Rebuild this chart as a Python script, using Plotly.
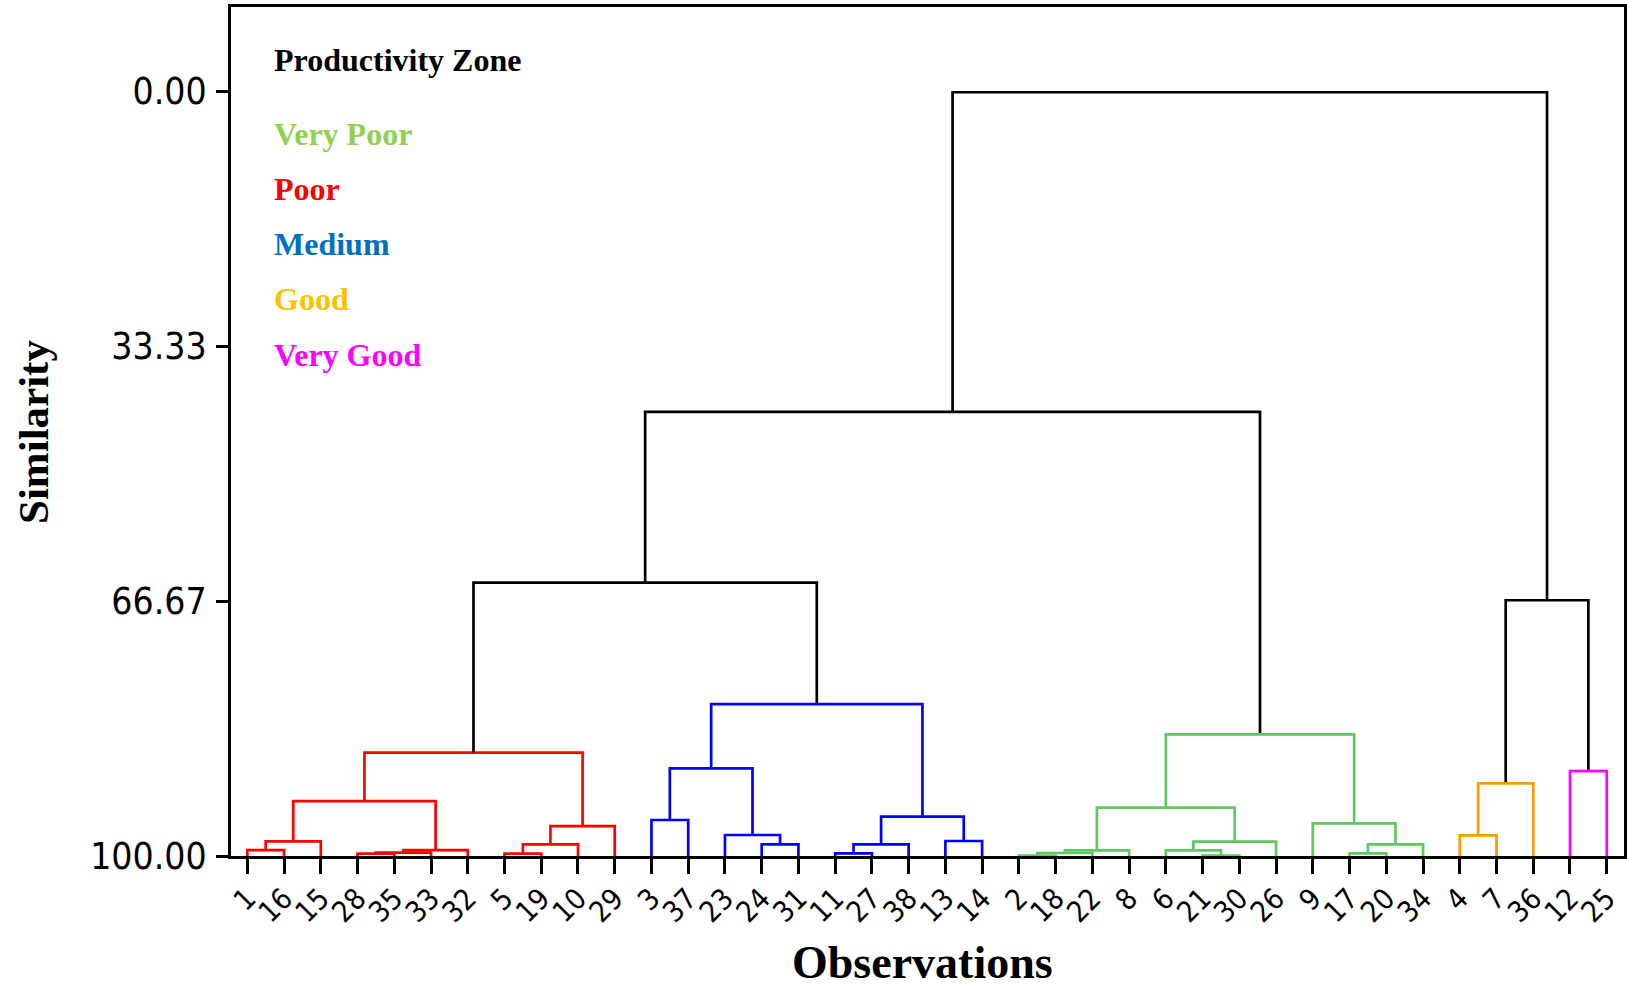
import plotly.graph_objects as go

# Leaf order along the x axis (observation numbers)
leaf_labels = [1, 16, 15, 28, 35, 33, 32, 5, 19, 10, 29,
               3, 37, 23, 24, 31, 11, 27, 38, 13, 14,
               2, 18, 22, 8, 6, 21, 30, 26, 9, 17, 20, 34,
               4, 7, 36, 12, 25]

# Agglomeration steps: integers are observations, "mK" refers to step K
merge_left = [1, "m0", 28, "m2", "m3", "m1", 5, "m6", "m7", "m5",          # 0-9
              3, 24, 23, "m10", 11, "m14", 13, "m15", "m13",              # 10-18
              "m9",                                                      # 19
              2, "m20", "m21", 21, 6, "m24", "m22", 17, "m27", 9, "m26",  # 20-30
              "m19",                                                     # 31
              4, "m32", 12, "m33", "m31"]                                # 32-36
merge_right = [16, 15, 35, 33, 32, "m4", 19, 10, 29, "m8",
               37, 31, "m11", "m12", 27, 38, 14, "m16", "m17",
               "m18",
               18, 22, 8, 30, "m23", 26, "m25", 20, 34, "m28", "m29",
               "m30",
               7, 36, 25, "m34", "m35"]
merge_similarity = [99.22, 98.08, 99.69, 99.56, 99.22, 92.81, 99.69, 98.47, 96.08, 86.49,
                    95.29, 98.47, 97.25, 88.54, 99.65, 98.47, 98.04, 94.85, 80.13,
                    64.25,
                    99.95, 99.61, 99.26, 99.95, 99.26, 98.12, 93.68, 99.65, 98.47, 95.73, 84.10,
                    41.90,
                    97.30, 90.50, 88.90, 66.55, 0.10]
merge_zone = (["Poor"] * 10 + ["Medium"] * 9 + [None]
              + ["Very Poor"] * 11 + [None]
              + ["Good", "Good", "Very Good", None, None])

zone_names = ["Very Poor", "Poor", "Medium", "Good", "Very Good"]
zone_text_colors = ["#92D050", "#FF0000", "#0070C0", "#FFC000", "#FF00FF"]
zone_line_colors = ["#5FC85F", "#FF0000", "#0000FF", "#FF9900", "#FF00FF"]

y_tick_values = [0.0, 33.33, 66.67, 100.0]
y_tick_text = ["0.00", "33.33", "66.67", "100.00"]

# ---- tree geometry -------------------------------------------------------
leaf_pos = {lab: i for i, lab in enumerate(leaf_labels)}
node_x, node_y = {}, {}


def locate(node):
    if isinstance(node, str):
        return node_x[node], node_y[node]
    return leaf_pos[node], 100.0


segments = {}
for k, (a, b, h, z) in enumerate(zip(merge_left, merge_right, merge_similarity, merge_zone)):
    xa, ya = locate(a)
    xb, yb = locate(b)
    node_x[f"m{k}"] = (xa + xb) / 2
    node_y[f"m{k}"] = h
    color = "#000000" if z is None else zone_line_colors[zone_names.index(z)]
    xs, ys = segments.setdefault(color, ([], []))
    xs += [xa, xa, xb, xb, None]
    ys += [ya, h, h, yb, None]

fig = go.Figure()
for color, (xs, ys) in segments.items():
    fig.add_trace(go.Scatter(x=xs, y=ys, mode="lines",
                             line=dict(color=color, width=2.7),
                             hoverinfo="skip", showlegend=False))

# ---- layout --------------------------------------------------------------
W, H = 1627, 987
PL, PR, PT, PB = 231, 1624, 7, 856


def px_to_paper(x, y):
    return (x - PL) / (PR - PL), (PB - y) / (PB - PT)


sans = "DejaVu Sans Condensed, Liberation Sans, Arial, sans-serif"
serif = "Liberation Serif, Times New Roman, serif"

fig.update_layout(
    width=W, height=H,
    margin=dict(l=PL, r=W - PR, t=PT, b=H - PB, autoexpand=False),
    paper_bgcolor="white", plot_bgcolor="white",
    showlegend=False,
)
fig.update_xaxes(
    range=[-0.444, 37.47],
    tickmode="array", tickvals=list(range(len(leaf_labels))),
    ticktext=[str(v) for v in leaf_labels],
    tickangle=-45, tickfont=dict(family=sans, size=29, color="black"),
    ticks="outside", ticklen=15, tickwidth=3, tickcolor="black",
    ticklabelstandoff=-4,
    showline=True, linecolor="black", linewidth=3, mirror=True,
    showgrid=False, zeroline=False,
)
fig.update_yaxes(
    range=[100.0, -11.05],
    tickmode="array", tickvals=y_tick_values, ticktext=y_tick_text,
    tickfont=dict(family=sans, size=37, color="black"),
    ticks="outside", ticklen=12, tickwidth=3, tickcolor="black",
    ticklabelstandoff=2,
    showline=True, linecolor="black", linewidth=3, mirror=True,
    showgrid=False, zeroline=False,
)

annotations = []
tx, ty = px_to_paper(272, 60)
annotations.append(dict(text="<b>Productivity Zone</b>", x=tx, y=ty,
                        xref="paper", yref="paper", xanchor="left", yanchor="middle",
                        showarrow=False, font=dict(family=serif, size=32, color="black")))
legend_rows_y = [134, 189, 244, 299, 355]
for name, col, yy in zip(zone_names, zone_text_colors, legend_rows_y):
    lx, ly = px_to_paper(272, yy)
    annotations.append(dict(text=f"<b>{name}</b>", x=lx, y=ly,
                            xref="paper", yref="paper", xanchor="left", yanchor="middle",
                            showarrow=False, font=dict(family=serif, size=32, color=col)))
ox, oy = px_to_paper(922, 962)
annotations.append(dict(text="<b>Observations</b>", x=ox, y=oy,
                        xref="paper", yref="paper", xanchor="center", yanchor="middle",
                        showarrow=False, font=dict(family=serif, size=46, color="black")))
sx, sy = px_to_paper(33, 432)
annotations.append(dict(text="<b>Similarity</b>", x=sx, y=sy, textangle=-90,
                        xref="paper", yref="paper", xanchor="center", yanchor="middle",
                        showarrow=False, font=dict(family=serif, size=43, color="black")))
fig.update_layout(annotations=annotations)

fig.write_html("out.html")
